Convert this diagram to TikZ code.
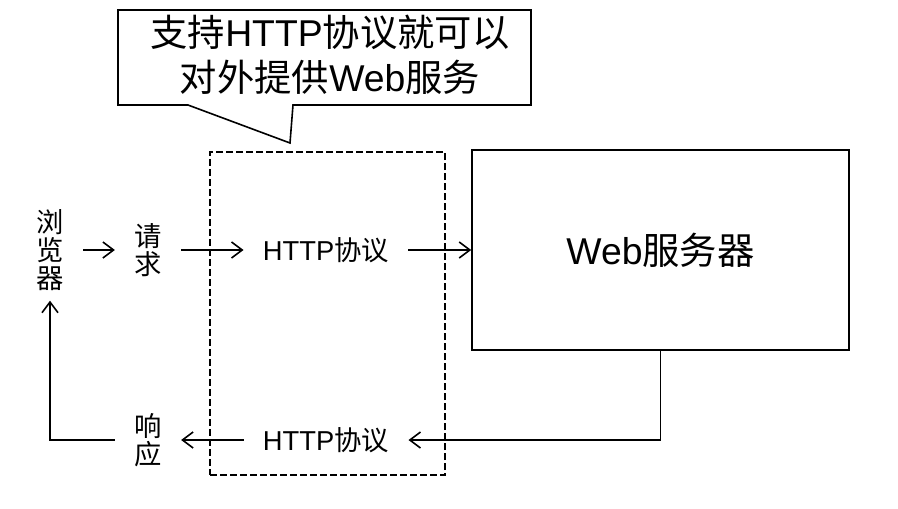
\documentclass[tikz,border=0pt]{standalone}
\usepackage{fontspec}
\setmainfont{Liberation Sans}
\newfontfamily\cjk{Noto Sans CJK SC}
\usetikzlibrary{arrows.meta}

\begin{document}
\begin{tikzpicture}[x=0.75pt, y=-0.75pt, line width=1.2pt, line join=miter,
    arr/.style={-{Straight Barb[length=8pt,width=12pt]}},
    lbl/.style={inner xsep=14pt, inner ysep=7pt, align=center, font=\fontsize{20.5}{21}\selectfont}]
    \useasboundingbox (0,0) rectangle (898,508);
    % globo de texto
    \coordinate (P1) at (118,10); \coordinate (P2) at (531,10);
    \coordinate (P3) at (531,105); \coordinate (P4) at (118,105);
    \coordinate (tip) at (290,143);
    \draw (P1) -- (P2) -- (P3) -- (293,105) -- (tip) -- (188,105) -- (P4) -- cycle;
    \node[align=center, inner sep=0pt, font=\fontsize{28}{34}\selectfont] (note) at (330,55)
        {{\cjk 支持}HTTP{\cjk 协议就可以}\\{\cjk 对外提供}Web{\cjk 服务}};
    % caja de protocolo y servidor
    \node[draw, dashed, dash pattern=on 5pt off 2.5pt, minimum width=176.25pt, minimum height=242.25pt] (proto) at (327.5,313.5) {};
    \node[draw, minimum width=282.75pt, minimum height=150pt, font=\fontsize{28}{34}\selectfont] (server) at (660.5,250)
        {Web{\cjk 服务器}};
    % etiquetas
    \node[lbl, font=\cjk\fontsize{20.5}{21}\selectfont] (browser) at (50,250) {浏\\览\\器};
    \node[lbl, font=\cjk\fontsize{20.5}{21}\selectfont] (req) at (148,250) {请\\求};
    \node[lbl] (httpA) at (326,250) {HTTP{\cjk 协议}};
    \node[lbl, font=\cjk\fontsize{20.5}{21}\selectfont] (resp) at (148,440) {响\\应};
    \node[lbl] (httpB) at (326,440) {HTTP{\cjk 协议}};
    % flechas
    \draw[arr] (browser) -- (req);
    \draw[arr] (req) -- (httpA);
    \draw[arr] (httpA) -- (server);
    \draw[arr] (server.south) |- (httpB.east);
    \draw[arr] (httpB) -- (resp);
    \draw[arr] (resp.west) -| (browser.south);
\end{tikzpicture}
\end{document}
